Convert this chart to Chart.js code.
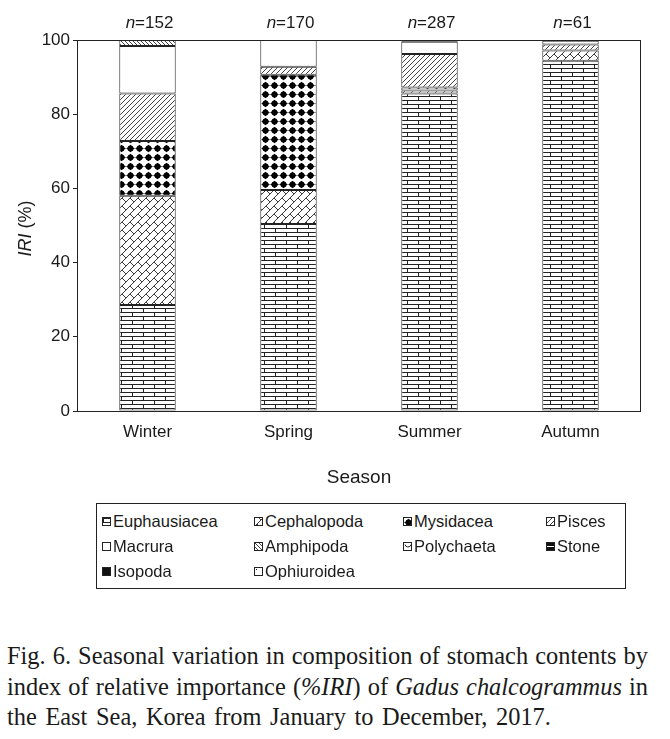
<!DOCTYPE html>
<html>
<head>
<meta charset="utf-8">
<script src="https://cdn.jsdelivr.net/npm/chart.js@4.4.1/dist/chart.umd.min.js"></script>
<style>
  body { margin: 0; background: #fff; width: 670px; height: 739px; position: relative; overflow: hidden; }
  #chartBox { position: absolute; left: 0; top: 0; width: 670px; height: 495px; }
  #legend {
    position: absolute; left: 96px; top: 503px; width: 530px; height: 86px;
    border: 1px solid #222; box-sizing: border-box;
    font-family: 'Liberation Sans', Arial, sans-serif; font-size: 16.5px; color: #1a1a1a;
    display: grid; grid-template-columns: 152px 149px 143px 80px; grid-auto-rows: 25px;
    padding: 5px 0 0 5px;
  }
  #legend .item { display: flex; align-items: center; white-space: nowrap; }
  #legend canvas { width: 7px; height: 7px; border: 1px solid #222; margin-right: 2px; }
  #caption {
    position: absolute; left: 7px; top: 641px; width: 641px;
    font-family: 'Liberation Serif', 'Times New Roman', serif; font-size: 24.4px;
    line-height: 30.5px; color: #1a1a1a;
  }
  #caption div { text-align: justify; text-align-last: justify; white-space: nowrap; }
  #caption div.last { text-align-last: left; word-spacing: 2.5px; }
</style>
</head>
<body>
<div id="chartBox"><canvas id="chart"></canvas></div>
<div id="legend"></div>
<div id="caption">
  <div>Fig. 6. Seasonal variation in composition of stomach contents by</div>
  <div>index of relative importance (<i>%IRI</i>) of <i>Gadus chalcogrammus</i> in</div>
  <div class="last">the East Sea, Korea from January to December, 2017.</div>
</div>
<script>
// Data
const seasons = ['Winter', 'Spring', 'Summer', 'Autumn'];
const sampleSizes = [152, 170, 287, 61];
const yTicks = [0, 20, 40, 60, 80, 100];

const euphausiacea = [28.6, 50.4, 85.6, 94.4];
const cephalopoda = [29.4, 9.2, 0.8, 2.8];
const mysidacea = [14.8, 31.0, 0.8, 0];
const pisces = [12.8, 2.2, 9.0, 1.6];
const macrura = [12.8, 7.2, 3.3, 1.0];
const amphipoda = [1.6, 0, 0.5, 0.2];
const polychaeta = [0, 0, 0, 0];
const stone = [0, 0, 0, 0];
const isopoda = [0, 0, 0, 0];
const ophiuroidea = [0, 0, 0, 0];

const ink = '#222';
const textColor = '#1a1a1a';

// Pattern helpers
function makeTile(w, h, draw) {
    const c = document.createElement('canvas');
    c.width = w;
    c.height = h;
    const g = c.getContext('2d');
    g.fillStyle = '#fff';
    g.fillRect(0, 0, w, h);
    g.strokeStyle = ink;
    g.fillStyle = ink;
    g.lineWidth = 1;
    // draw a segment with wrap-around copies
    const seg = (x1, y1, x2, y2) => {
        for (const dx of [-w, 0, w]) {
            for (const dy of [-h, 0, h]) {
                g.beginPath();
                g.moveTo(x1 + dx, y1 + dy);
                g.lineTo(x2 + dx, y2 + dy);
                g.stroke();
            }
        }
    };
    draw(g, seg, w, h);
    return c;
}

const tiles = {
    brick: makeTile(22, 8, (g) => {
        g.fillRect(0, 0, 22, 1);
        g.fillRect(0, 4, 22, 1);
        g.fillRect(0, 0, 1, 4);
        g.fillRect(11, 4, 1, 4);
    }),
    diagBrick: makeTile(16, 16, (g, seg) => {
        g.lineWidth = 0.9;
        seg(0, 8, 8, 0);
        seg(0, 16, 16, 0);
        seg(8, 16, 16, 8);
        // short connectors, staggered between bands
        seg(2, 6, 6, 10);
        seg(10, -2, 14, 2);
        seg(10, 6, 14, 10);
        seg(2, 14, 6, 18);
    }),
    dots: makeTile(9, 9, (g) => {
        g.fillStyle = '#888';
        g.fillRect(0, 4, 9, 1);
        g.fillStyle = '#000';
        g.beginPath();
        g.moveTo(4.5, 0.8);
        g.lineTo(8.2, 4.5);
        g.lineTo(4.5, 8.2);
        g.lineTo(0.8, 4.5);
        g.closePath();
        g.fill();
        g.beginPath();
        g.arc(4.5, 4.5, 3, 0, Math.PI * 2);
        g.fill();
    }),
    hatch: makeTile(5, 5, (g, seg) => {
        g.strokeStyle = '#444';
        seg(0, 5, 5, 0);
    }),
    white: makeTile(4, 4, () => {}),
    backHatch: makeTile(4, 4, (g, seg) => {
        g.strokeStyle = '#444';
        seg(0, 0, 4, 4);
    }),
    arcs: makeTile(8, 6, (g) => {
        g.beginPath();
        g.arc(4, 1, 3, 0.2, Math.PI - 0.2);
        g.stroke();
    }),
    stone: makeTile(4, 6, (g) => {
        g.fillStyle = '#111';
        g.fillRect(0, 0, 4, 6);
        g.fillStyle = '#fff';
        g.fillRect(0, 3, 4, 1);
    }),
    solid: makeTile(4, 4, (g) => {
        g.fillStyle = '#111';
        g.fillRect(0, 0, 4, 4);
    }),
    dotted: makeTile(6, 6, (g) => {
        g.fillRect(1, 1, 1, 1);
    })
};

const canvas = document.getElementById('chart');
const ctx = canvas.getContext('2d');
const pat = (name) => ctx.createPattern(tiles[name], 'repeat');

const series = [
    { label: 'Euphausiacea', data: euphausiacea, tile: 'brick' },
    { label: 'Cephalopoda', data: cephalopoda, tile: 'diagBrick' },
    { label: 'Mysidacea', data: mysidacea, tile: 'dots' },
    { label: 'Pisces', data: pisces, tile: 'hatch' },
    { label: 'Macrura', data: macrura, tile: 'white' },
    { label: 'Amphipoda', data: amphipoda, tile: 'backHatch' },
    { label: 'Polychaeta', data: polychaeta, tile: 'arcs' },
    { label: 'Stone', data: stone, tile: 'stone' },
    { label: 'Isopoda', data: isopoda, tile: 'solid' },
    { label: 'Ophiuroidea', data: ophiuroidea, tile: 'dotted' }
];

// Frame around the plot area, sample size labels and y title
const extras = {
    id: 'extras',
    afterDraw(chart) {
        const c = chart.ctx;
        const a = chart.chartArea;
        c.save();
        c.strokeStyle = ink;
        c.lineWidth = 1;
        c.strokeRect(Math.round(a.left) + 0.5, Math.round(a.top) + 0.5,
            Math.round(a.right - a.left) - 1, Math.round(a.bottom - a.top));

        c.fillStyle = textColor;
        c.textBaseline = 'middle';
        const xs = chart.scales.x;
        sampleSizes.forEach((n, i) => {
            const x = xs.getPixelForValue(i);
            c.font = 'italic 17px "Liberation Sans", Arial, sans-serif';
            const w1 = c.measureText('n').width;
            c.font = '17px "Liberation Sans", Arial, sans-serif';
            const rest = '=' + n;
            const w2 = c.measureText(rest).width;
            const x0 = x - (w1 + w2) / 2 + 2;
            c.textAlign = 'left';
            c.font = 'italic 17px "Liberation Sans", Arial, sans-serif';
            c.fillText('n', x0, 23);
            c.font = '17px "Liberation Sans", Arial, sans-serif';
            c.fillText(rest, x0 + w1, 23);
        });

        c.translate(26, (a.top + a.bottom) / 2 + 3);
        c.rotate(-Math.PI / 2);
        c.font = 'italic 18px "Liberation Sans", Arial, sans-serif';
        const t1 = 'IRI';
        const tw1 = c.measureText(t1).width;
        c.font = '18px "Liberation Sans", Arial, sans-serif';
        const t2 = ' (%)';
        const tw2 = c.measureText(t2).width;
        const sx = -(tw1 + tw2) / 2;
        c.font = 'italic 18px "Liberation Sans", Arial, sans-serif';
        c.fillText(t1, sx, 0);
        c.font = '18px "Liberation Sans", Arial, sans-serif';
        c.fillText(t2, sx + tw1, 0);
        c.restore();
    }
};

new Chart(canvas, {
    type: 'bar',
    data: {
        labels: seasons,
        datasets: series.map(s => ({
            label: s.label,
            data: s.data,
            backgroundColor: pat(s.tile),
            borderColor: ink,
            borderWidth: 1,
            borderSkipped: false,
            categoryPercentage: 1,
            barPercentage: 0.4
        }))
    },
    options: {
        responsive: true,
        maintainAspectRatio: false,
        animation: false,
        layout: { padding: { top: 40, right: 29, bottom: 0, left: 0 } },
        plugins: {
            legend: { display: false },
            tooltip: { enabled: false }
        },
        scales: {
            x: {
                stacked: true,
                grid: { display: false },
                border: { display: false },
                ticks: {
                    color: textColor,
                    padding: 3,
                    font: { size: 17, family: '"Liberation Sans", Arial, sans-serif' }
                },
                title: {
                    display: true,
                    text: 'Season',
                    color: textColor,
                    padding: { top: 0, bottom: 6 },
                    font: { size: 19, family: '"Liberation Sans", Arial, sans-serif' }
                },
                afterFit(scale) { scale.height = 84; }
            },
            y: {
                stacked: true,
                min: 0,
                max: 100,
                afterBuildTicks(scale) { scale.ticks = yTicks.map(v => ({ value: v })); },
                grid: {
                    display: true,
                    drawOnChartArea: false,
                    drawTicks: true,
                    tickLength: 4,
                    color: ink
                },
                border: { display: false },
                ticks: {
                    color: textColor,
                    padding: 3,
                    font: { size: 17, family: '"Liberation Sans", Arial, sans-serif' }
                },
                afterFit(scale) { scale.width = 77; }
            }
        }
    },
    plugins: [extras]
});

// HTML legend with pattern swatches
const legend = document.getElementById('legend');
series.forEach(s => {
    const item = document.createElement('div');
    item.className = 'item';
    const sw = document.createElement('canvas');
    sw.width = 7;
    sw.height = 7;
    const g = sw.getContext('2d');
    g.fillStyle = g.createPattern(tiles[s.tile], 'repeat');
    g.fillRect(0, 0, 7, 7);
    const span = document.createElement('span');
    span.textContent = s.label;
    item.appendChild(sw);
    item.appendChild(span);
    legend.appendChild(item);
});
</script>
</body>
</html>
